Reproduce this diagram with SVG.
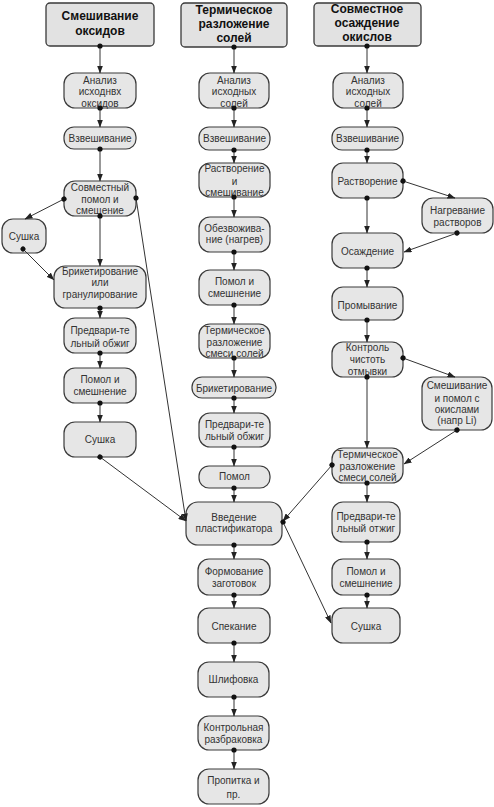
<svg xmlns="http://www.w3.org/2000/svg" width="494" height="807" viewBox="0 0 494 807">
<style>
.bg{fill:#ffffff}
.n rect{fill:#e6e6e6;stroke:#3a3a3a;stroke-width:1.2}
.h rect{fill:#e2e2e2;stroke:#3a3a3a;stroke-width:1.3}
.n text{font-family:"Liberation Sans",Arial,sans-serif;font-size:10px;fill:#333;text-anchor:middle}
.h text{font-family:"Liberation Sans",Arial,sans-serif;font-size:12px;font-weight:bold;fill:#111;text-anchor:middle}
#edges path{fill:none;stroke:#333;stroke-width:1;marker-start:url(#dot);marker-end:url(#arr)}
</style>
<defs>
<marker id="arr" markerUnits="userSpaceOnUse" markerWidth="8" markerHeight="6" refX="7.5" refY="3" orient="auto"><path d="M0,0 L8,3 L0,6 z" fill="#222"/></marker>
<marker id="dot" markerUnits="userSpaceOnUse" markerWidth="6" markerHeight="6" refX="3" refY="3" orient="auto"><circle cx="3" cy="3" r="2.6" fill="#111"/></marker>
</defs>
<rect class="bg" x="0" y="0" width="494" height="807"/>

<!-- headers -->
<g id="h1" class="h"><rect x="46" y="3" width="108" height="43" rx="4"/><text x="100" y="20">Смешивание</text><text x="100" y="35">оксидов</text></g>
<g id="h2" class="h"><rect x="181" y="3" width="106" height="44" rx="4"/><text x="234" y="14">Термическое</text><text x="234" y="28">разложение</text><text x="234" y="42">солей</text></g>
<g id="h3" class="h"><rect x="314" y="3" width="107" height="43" rx="4"/><text x="367" y="13">Совместное</text><text x="367" y="27">осаждение</text><text x="367" y="41">окислов</text></g>

<!-- column 1 nodes -->
<g id="c1n1" class="n"><rect x="64" y="73" width="72" height="35" rx="11"/><text x="100" y="83.5">Анализ</text><text x="100" y="94.5">исходнвх</text><text x="100" y="106.5">оксидов</text></g>
<g id="c1n2" class="n"><rect x="64" y="127" width="72" height="22" rx="10"/><text x="100" y="141.5">Взвешивание</text></g>
<g id="c1n3" class="n"><rect x="64" y="181" width="72" height="35" rx="11"/><text x="100" y="190.5">Совместный</text><text x="100" y="202.5">помол и</text><text x="100" y="213.5">смещение</text></g>
<g id="c1s" class="n"><rect x="2" y="219" width="44" height="34" rx="11"/><text x="24" y="239.5">Сушка</text></g>
<g id="c1n4" class="n"><rect x="54" y="266" width="92" height="42" rx="11"/><text x="100" y="274.5">Брикетирование</text><text x="100" y="285.5">или</text><text x="100" y="297.5">гранулирование</text></g>
<g id="c1n5" class="n"><rect x="64" y="318" width="72" height="35" rx="11"/><text x="100" y="333.5">Предвари-те</text><text x="100" y="346.5">льный обжиг</text></g>
<g id="c1n6" class="n"><rect x="64" y="368" width="72" height="35" rx="11"/><text x="100" y="382.5">Помол и</text><text x="100" y="394.5">смешнение</text></g>
<g id="c1n7" class="n"><rect x="64" y="422" width="72" height="35" rx="11"/><text x="100" y="442.5">Сушка</text></g>

<!-- column 2 nodes -->
<g id="c2n1" class="n"><rect x="199" y="73" width="70" height="35" rx="11"/><text x="234" y="83.5">Анализ</text><text x="234" y="94.5">исходных</text><text x="234" y="106.5">солей</text></g>
<g id="c2n2" class="n"><rect x="199" y="127" width="71" height="23" rx="10"/><text x="234.5" y="141.5">Взвешивание</text></g>
<g id="c2n3" class="n"><rect x="199" y="163" width="71" height="34" rx="11"/><text x="234.5" y="171.5">Растворение</text><text x="234.5" y="184.5">и</text><text x="234.5" y="195.5">смешивание</text></g>
<g id="c2n4" class="n"><rect x="199" y="217" width="71" height="35" rx="11"/><text x="234.5" y="231.5">Обезвожива-</text><text x="234.5" y="242.5">ние (нагрев)</text></g>
<g id="c2n5" class="n"><rect x="199" y="270" width="71" height="35" rx="11"/><text x="234.5" y="284.5">Помол и</text><text x="234.5" y="296.5">смешнение</text></g>
<g id="c2n6" class="n"><rect x="199" y="324" width="71" height="34" rx="11"/><text x="234.5" y="333.5">Термическое</text><text x="234.5" y="345.5">разложение</text><text x="234.5" y="356.5">смеси солей</text></g>
<g id="c2n7" class="n"><rect x="192" y="377" width="84" height="21" rx="10"/><text x="234" y="391.5">Брикетирование</text></g>
<g id="c2n8" class="n"><rect x="199" y="413" width="71" height="34" rx="11"/><text x="234.5" y="427.5">Предвари-те</text><text x="234.5" y="439.5">льный обжиг</text></g>
<g id="c2n9" class="n"><rect x="199" y="466" width="71" height="22" rx="10"/><text x="234.5" y="479.5">Помол</text></g>
<g id="c2n10" class="n"><rect x="186" y="502" width="96" height="43" rx="12"/><text x="234" y="520.5">Введение</text><text x="234" y="531.5">пластификатора</text></g>
<g id="c2n11" class="n"><rect x="198" y="559" width="72" height="36" rx="11"/><text x="234" y="574.5">Формование</text><text x="234" y="586.5">заготовок</text></g>
<g id="c2n12" class="n"><rect x="198" y="608" width="72" height="35" rx="11"/><text x="234" y="629.5">Спекание</text></g>
<g id="c2n13" class="n"><rect x="198" y="662" width="71" height="35" rx="11"/><text x="233.5" y="682.5">Шлифовка</text></g>
<g id="c2n14" class="n"><rect x="198" y="716" width="71" height="34" rx="11"/><text x="233.5" y="730.5">Контрольная</text><text x="233.5" y="742.5">разбраковка</text></g>
<g id="c2n15" class="n"><rect x="198" y="769" width="71" height="35" rx="11"/><text x="233.5" y="783.5">Пропитка и</text><text x="233.5" y="797.5">пр.</text></g>

<!-- column 3 nodes -->
<g id="c3n1" class="n"><rect x="333" y="73" width="70" height="35" rx="11"/><text x="368" y="83.5">Анализ</text><text x="368" y="94.5">исходных</text><text x="368" y="106.5">солей</text></g>
<g id="c3n2" class="n"><rect x="332" y="127" width="71" height="23" rx="10"/><text x="367.5" y="141.5">Взвешивание</text></g>
<g id="c3n3" class="n"><rect x="332" y="163" width="71" height="35" rx="11"/><text x="367.5" y="184.5">Растворение</text></g>
<g id="c3n4" class="n"><rect x="422" y="198" width="71" height="35" rx="11"/><text x="457.5" y="213.5">Нагревание</text><text x="457.5" y="225.5">растворов</text></g>
<g id="c3n5" class="n"><rect x="332" y="233" width="71" height="35" rx="11"/><text x="367.5" y="254.5">Осаждение</text></g>
<g id="c3n6" class="n"><rect x="332" y="287" width="71" height="33" rx="11"/><text x="367.5" y="308.5">Промывание</text></g>
<g id="c3n7" class="n"><rect x="332" y="342" width="71" height="35" rx="11"/><text x="367.5" y="350.5">Контроль</text><text x="367.5" y="362.5">чистоть</text><text x="367.5" y="374.5">отмывки</text></g>
<g id="c3n8" class="n"><rect x="422" y="377" width="70" height="53" rx="11"/><text x="457" y="388.5">Смешивание</text><text x="457" y="401.5">и помол с</text><text x="457" y="412.5">окислами</text><text x="457" y="423.5">(напр Li)</text></g>
<g id="c3n9" class="n"><rect x="332" y="448" width="71" height="35" rx="11"/><text x="367.5" y="457.5">Термическое</text><text x="367.5" y="469.5">разложение</text><text x="367.5" y="480.5">смеси солей</text></g>
<g id="c3n10" class="n"><rect x="332" y="502" width="68" height="40" rx="11"/><text x="366" y="519.5">Предвари-те</text><text x="366" y="531.5">льный отжиг</text></g>
<g id="c3n11" class="n"><rect x="332" y="559" width="68" height="36" rx="11"/><text x="366" y="574.5">Помол и</text><text x="366" y="586.5">смешнение</text></g>
<g id="c3n12" class="n"><rect x="332" y="608" width="68" height="35" rx="11"/><text x="366" y="629.5">Сушка</text></g>

<g id="edges">
<!-- column 1 -->
<path d="M100,46 L100,73"/>
<path d="M100,108 L100,127"/>
<path d="M100,149 L100,181"/>
<path d="M64,199 L25,219"/>
<path d="M23,249 L54,280"/>
<path d="M100,216 L100,266"/>
<path d="M100,308 L100,318"/>
<path d="M100,353 L100,368"/>
<path d="M100,403 L100,422"/>
<path d="M100,457 L186,521"/>
<path d="M136,198 L186,521"/>
<!-- column 2 -->
<path d="M234,47 L234,73"/>
<path d="M234,108 L234,127"/>
<path d="M234,150 L234,163"/>
<path d="M234,197 L234,217"/>
<path d="M234,252 L234,270"/>
<path d="M234,305 L234,324"/>
<path d="M234,358 L234,377"/>
<path d="M234,398 L234,413"/>
<path d="M234,447 L234,466"/>
<path d="M234,488 L234,502"/>
<path d="M234,545 L234,559"/>
<path d="M234,595 L234,608"/>
<path d="M234,643 L234,662"/>
<path d="M234,697 L234,716"/>
<path d="M234,750 L234,769"/>
<!-- column 3 -->
<path d="M367,46 L367,73"/>
<path d="M367,108 L367,127"/>
<path d="M367,150 L367,163"/>
<path d="M403,181 L455,198"/>
<path d="M367,198 L367,233"/>
<path d="M457,233 L404,252"/>
<path d="M367,268 L367,287"/>
<path d="M367,320 L367,342"/>
<path d="M403,358 L455,377"/>
<path d="M367,377 L367,448"/>
<path d="M457,430 L404,464"/>
<path d="M332,465 L283,521"/>
<path d="M283,522 L331,623"/>
<path d="M367,483 L367,502"/>
<path d="M367,542 L367,559"/>
<path d="M367,595 L367,608"/>
</g>
</svg>
